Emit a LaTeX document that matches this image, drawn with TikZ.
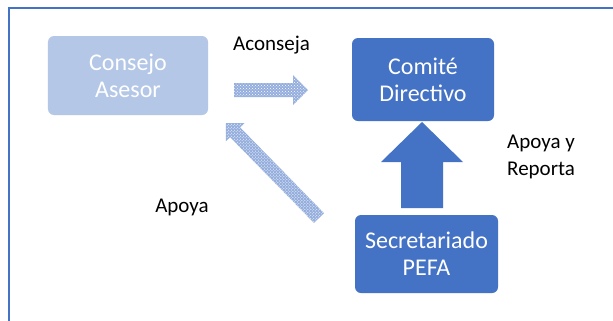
\documentclass[tikz,border=0pt]{standalone}
\usepackage{fontspec}
\setmainfont{Carlito}
\usetikzlibrary{patterns,calc}
\definecolor{darkb}{HTML}{4472C4}
\definecolor{lightb}{HTML}{B4C7E7}
\definecolor{arrb}{HTML}{95AEDD}
\begin{document}
\begin{tikzpicture}[x=1bp,y=-1bp,
  box/.style={rounded corners=6bp, align=center, text=white, inner sep=0pt,
    font=\fontsize{24bp}{27bp}\selectfont},
  lbl/.style={inner sep=0pt, font=\fontsize{21bp}{27bp}\selectfont},
  pat/.style={fill=arrb, postaction={pattern=crosshatch dots, pattern color=white}}]
\useasboundingbox (0,0) rectangle (613,320);
\fill[white] (0,0) rectangle (613,320);
\draw[darkb, line width=2bp] (9,322) -- (9,8) -- (615,8);

\node[box, fill=lightb, minimum width=160bp, minimum height=79bp] (ca) at (128,75.5) {Consejo\\Asesor};
\node[box, fill=darkb, minimum width=142bp, minimum height=83bp] (cd) at (423,79.5) {Comité\\Directivo};
\node[box, fill=darkb, minimum width=143bp, minimum height=78bp] (sp) at (426.5,254) {Secretariado\\PEFA};

\node[lbl, anchor=base] (l1) at (271.5,50) {Aconseja};
\node[lbl, anchor=base] (l2) at (182,212) {Apoya};
\node[lbl, align=left, anchor=west] (l3) at (507,156.75) {Apoya y\\Reporta};

% right arrow (Aconseja)
\fill[pat] (234,83) -- (293,83) -- (293,75) -- (308,90) -- (293,105) -- (293,97) -- (234,97) -- cycle;

% up arrow (Apoya y Reporta)
\fill[darkb] (401,208) -- (401,162) -- (381,162) -- (422,122) -- (463,162) -- (443,162) -- (443,208) -- cycle;

% diagonal arrow (Apoya)
\coordinate (dt) at (319,218);
\coordinate (dp) at (226,123);
\coordinate (dh) at ($(dp)!13bp!(dt)$);
\fill[pat] ($(dt)!7bp!90:(dp)$) -- ($(dh)!7bp!90:(dp)$) -- ($(dh)!13bp!90:(dp)$) -- (dp)
  -- ($(dh)!13bp!-90:(dp)$) -- ($(dh)!7bp!-90:(dp)$) -- ($(dt)!7bp!-90:(dp)$) -- cycle;
\end{tikzpicture}
\end{document}
